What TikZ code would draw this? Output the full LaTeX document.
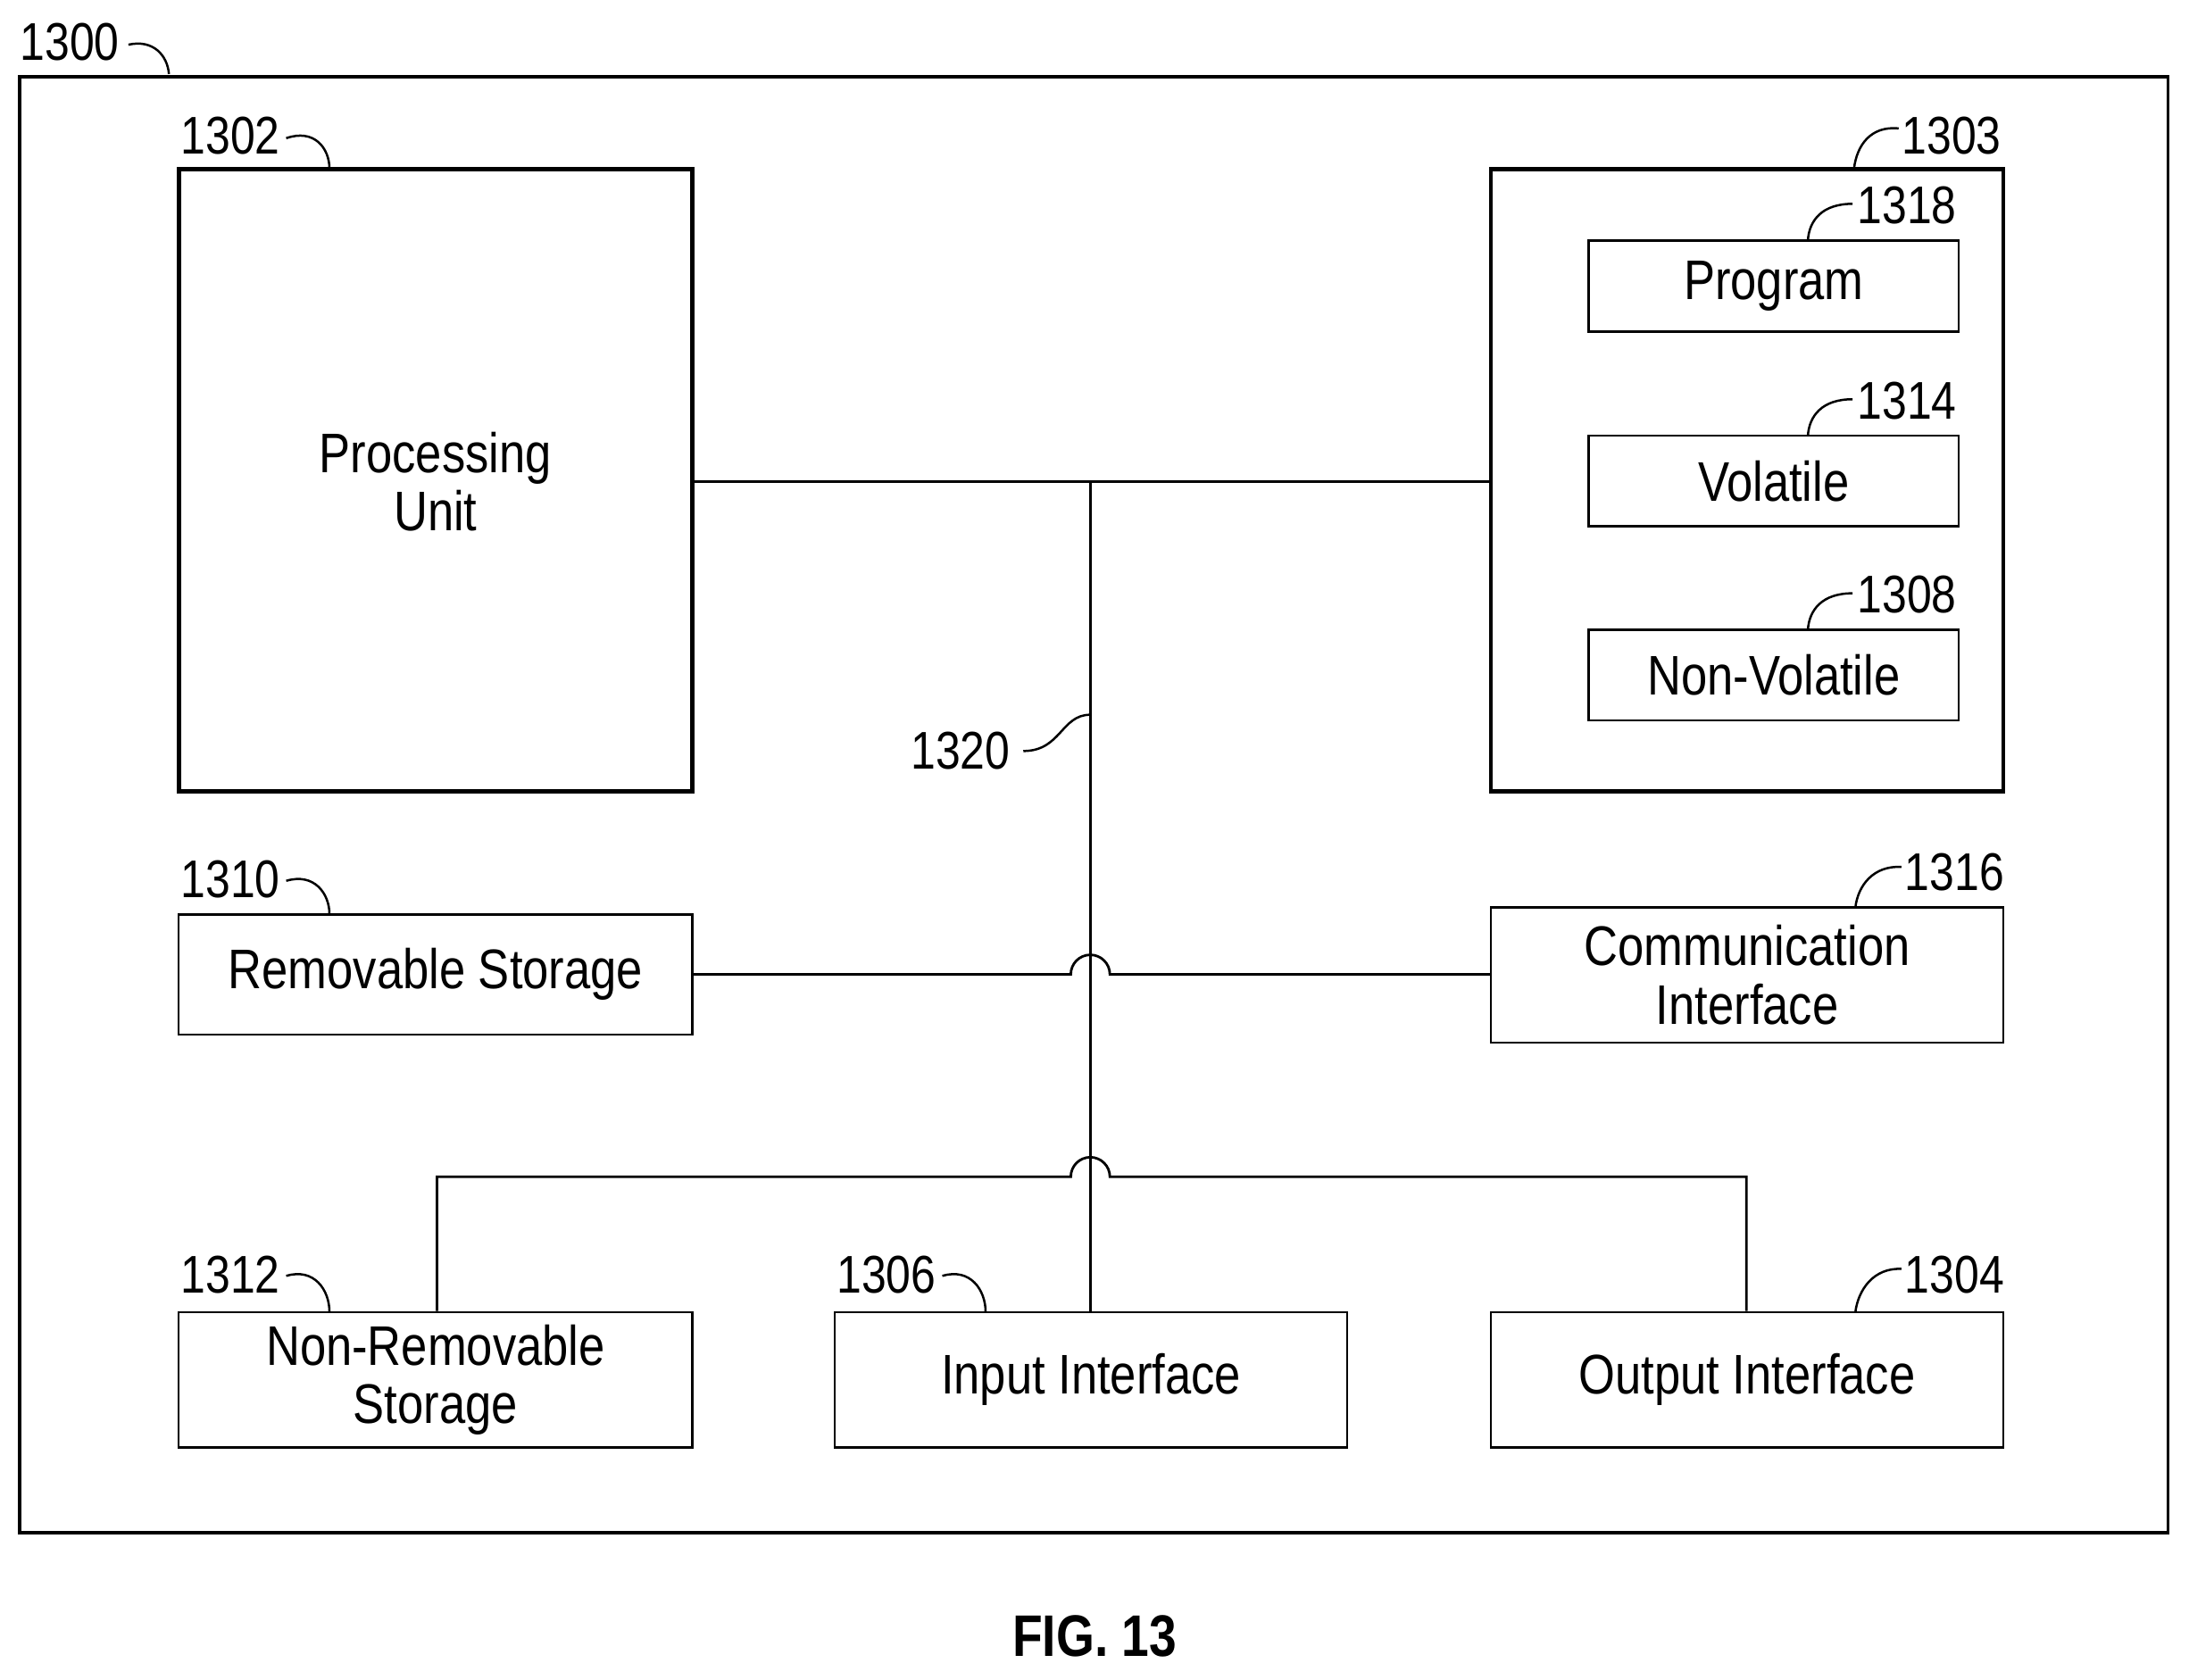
\documentclass[tikz,border=0pt]{standalone}
\usepackage{fontspec}
\setmainfont{Liberation Sans}[FakeStretch=0.84]
\begin{document}
\begin{tikzpicture}[x=1pt,y=-1pt,
  box/.style={draw,line width=1.6pt,minimum width=368pt,align=center,font=\fontsize{40}{42}\selectfont,inner sep=0pt},
  tbox/.style={draw,line width=3pt},
  ibox/.style={draw,line width=1.8pt,minimum width=265pt,minimum height=65pt,font=\fontsize{40}{42}\selectfont,inner sep=0pt},
  lab/.style={font=\fontsize{38}{42}\selectfont,inner sep=0pt},
  ln/.style={line width=1.8pt},
  ld/.style={line width=1.6pt}]
\useasboundingbox (0,0) rectangle (1568,1203);
\draw[line width=2.2pt] (14,55) rectangle (1553,1098);
\node[lab] (l1300) at (50,30) {1300};
\draw[ld] (92,32) .. controls (110,28) and (120,40) .. (121,53);
% processing unit
\node[tbox,minimum width=368pt,minimum height=446pt] (pu) at (312,344) {};
\node[lab,font=\fontsize{40}{42}\selectfont,align=center] (put) at (312,345) {Processing\\Unit};
\node[lab] (l1302) at (165,97) {1302};
\draw[ld] (205,99) .. controls (225,92) and (236,106) .. (236,121);
% memory
\node[tbox,minimum width=367pt,minimum height=446pt] (mem) at (1251.5,344) {};
\node[lab] (l1303) at (1398,97) {1303};
\draw[ld] (1360,92) .. controls (1340,90) and (1330,104) .. (1328,121);
\node[ibox] (prog) at (1270.5,205) {Program};
\node[ibox] (vol) at (1270.5,344.5) {Volatile};
\node[ibox] (nv) at (1270.5,483.5) {Non-Volatile};
\node[lab] (l1318) at (1366,147) {1318};
\draw[ld] (1327,146) .. controls (1305,146) and (1296,158) .. (1295,172);
\node[lab] (l1314) at (1366,287) {1314};
\draw[ld] (1327,286) .. controls (1305,286) and (1296,298) .. (1295,312);
\node[lab] (l1308) at (1366,426) {1308};
\draw[ld] (1327,425) .. controls (1305,425) and (1296,437) .. (1295,451);
% bus
\coordinate (j) at (781,345);
\draw[ln] (pu.east |- j) -- (mem.west |- j);
\draw[ln] (j) -- (781,940);
\node[lab] (l1320) at (688,538) {1320};
\draw[ld] (733,538) .. controls (760,538) and (760,512) .. (781,512);
% removable / comm
\node[box,minimum height=86pt] (rs) at (312,698) {Removable Storage};
\node[box,minimum height=97pt,minimum width=367pt] (ci) at (1251.5,698.5) {Communication\\Interface};
\draw[ln] (rs.east) -- (767,698) arc[start angle=180,end angle=360,radius=14] -- (ci.west |- 0,698);
\node[lab] (l1310) at (165,630) {1310};
\draw[ld] (205,631) .. controls (225,625) and (236,640) .. (236,655);
\node[lab] (l1316) at (1400,625) {1316};
\draw[ld] (1362,621) .. controls (1342,620) and (1331,634) .. (1329,650);
% bottom row
\node[box,minimum height=97pt] (nrs) at (312,988.5) {Non-Removable\\Storage};
\node[box,minimum height=97pt,minimum width=367pt] (ii) at (781.5,988.5) {Input Interface};
\node[box,minimum height=97pt,minimum width=367pt] (oi) at (1251.5,988.5) {Output Interface};
\draw[ln] (nrs.north -| 313,0) -- (313,843) -- (767,843) arc[start angle=180,end angle=360,radius=14] -- (1251,843) -- (oi.north -| 1251,0);
\node[lab] (l1312) at (165,913) {1312};
\draw[ld] (205,914) .. controls (225,908) and (236,924) .. (236,940);
\node[lab] (l1306) at (635,913) {1306};
\draw[ld] (675,914) .. controls (695,908) and (706,924) .. (706,940);
\node[lab] (l1304) at (1400,913) {1304};
\draw[ld] (1362,909) .. controls (1342,908) and (1331,924) .. (1329,940);
\node[font=\fontsize{42}{42}\selectfont\bfseries] (fig) at (784,1172) {FIG. 13};
\end{tikzpicture}
\end{document}
